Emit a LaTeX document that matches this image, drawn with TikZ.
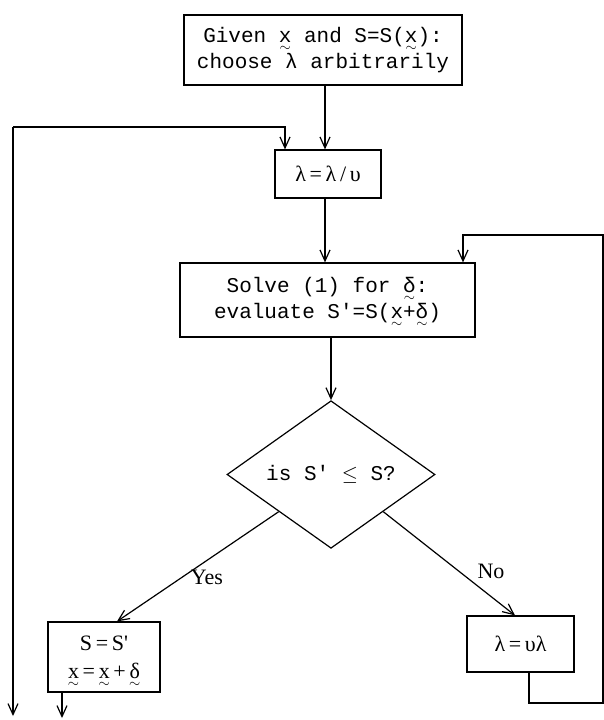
\documentclass[tikz,border=0pt]{standalone}
\usepackage{fontspec}
\usepackage{amsmath}
\setmainfont{Liberation Serif}[Ligatures=TeXOff]
\setmonofont{Liberation Mono}
\usetikzlibrary{shapes.geometric,arrows.meta}
\newcommand{\utl}[1]{\setbox0\hbox{#1}\leavevmode\rlap{\hbox to\wd0{\hss\raisebox{-0.42em}[0pt][0pt]{$\scriptstyle\sim$}\hss}}\box0\relax}
\begin{document}
\begin{tikzpicture}[x=1pt,y=-1pt,line width=1.2pt,
  box/.style={draw,rectangle,inner sep=0pt,align=center},
  arr/.style={-{Straight Barb[length=11pt,width=10pt]}},
  tt/.style={font=\ttfamily\fontsize{21}{26}\selectfont},
  rm/.style={font=\fontsize{22}{28}\selectfont}]
\useasboundingbox (0,0) rectangle (604,720);
% nodes
\node[box,tt,minimum width=278pt,minimum height=70pt] (given) at (323,50)
  {Given \utl{x} and S=S(\utl{x}):\\choose λ arbitrarily};
\node[box,rm,minimum width=106pt,minimum height=48pt] (lamA) at (328,174)
  {λ\,=\,λ\,/\,υ};
\node[box,tt,minimum width=295pt,minimum height=74pt] (solve) at (327.5,300)
  {Solve (1) for \utl{δ}:\\evaluate S'=S(\utl{x}+\utl{δ})};
\node[draw,diamond,inner sep=0pt,minimum width=208pt,minimum height=123pt,tt] (dia) at (331,474.5)
  {is S' $\leq$ S?};
\node[box,rm,minimum width=112pt,minimum height=70pt] (sbox) at (104,657)
  {S\,=\,S'\\\utl{x}\,=\,\utl{x}\,+\,\utl{δ}};
\node[box,rm,minimum width=107pt,minimum height=56pt] (lamB) at (520.5,644)
  {λ\,=\,υλ};
\node[rm] (yes) at (207,577) {Yes};
\node[rm] (no) at (491,571) {No};
% free ends
\coordinate (ltop) at (13,127);
\coordinate (lbot) at (13,716);
\coordinate (rb) at (603,703);
\coordinate (rt) at (603,235);
\coordinate (send) at (62,718);
% connectors
\draw[arr] ([xshift=2pt]given.south) -- ([xshift=-3pt]lamA.north);
\draw[arr] (ltop) -| ([xshift=-43pt]lamA.north);
\draw[arr] (ltop) -- (lbot);
\draw[arr] ([xshift=-3pt]lamA.south) -- ([xshift=-2.5pt]solve.north);
\draw[arr] (solve.south -| dia.north) -- (dia.north);
\draw[arr] (dia.south west) -- ([xshift=13pt]sbox.north);
\draw[arr] (dia.south east) -- ([xshift=-5.5pt]lamB.north);
\draw[arr] ([xshift=8.5pt]lamB.south) |- (rb) -- (rt) -| ([xshift=135.5pt]solve.north);
\draw[arr] ([xshift=-42pt]sbox.south) -- (send);
\end{tikzpicture}
\end{document}
